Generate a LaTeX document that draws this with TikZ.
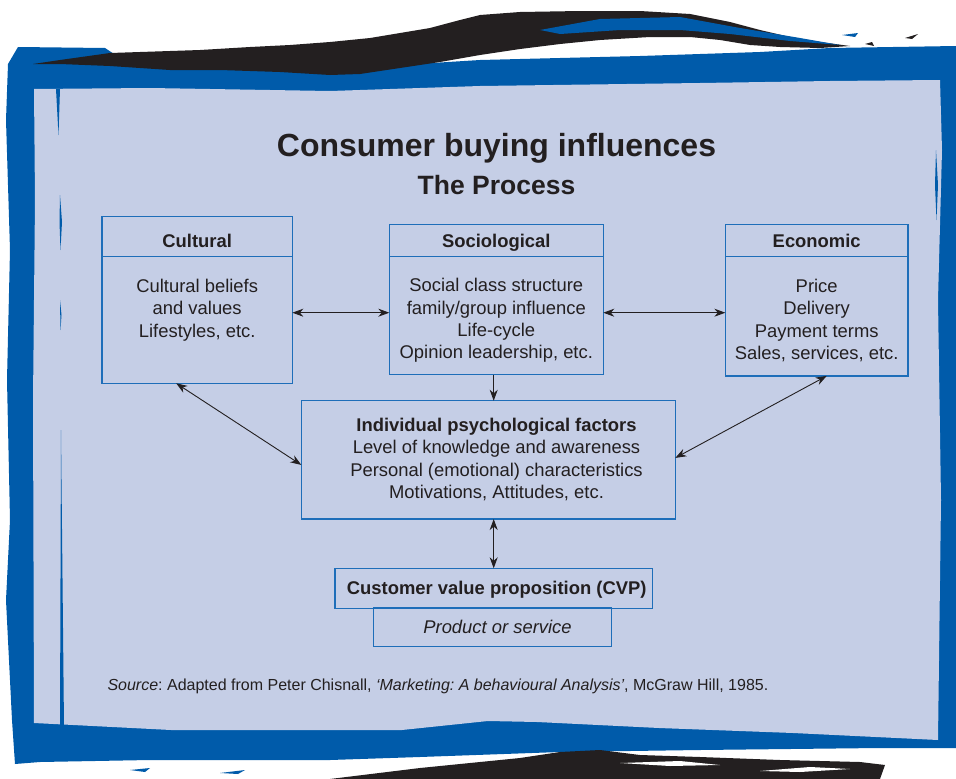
\documentclass[tikz,border=0pt]{standalone}
\usepackage{fontspec}
\setmainfont{Liberation Sans}
\usepackage{tikz}
\usetikzlibrary{arrows.meta}
\definecolor{frameblue}{RGB}{0,91,170}
\definecolor{panel}{RGB}{197,206,230}
\definecolor{boxblue}{RGB}{30,110,185}
\definecolor{ink}{RGB}{35,31,32}
\frenchspacing
\tikzset{
  catbox/.style={rectangle, draw=boxblue, line width=1.4pt, inner sep=0pt, outer sep=0pt},
  bodytext/.style={font=\fontsize{18.4}{22.4}\selectfont, text=ink, align=center},
  headtext/.style={font=\fontsize{18.4}{22.4}\selectfont\bfseries, text=ink, text height=13.2pt, text depth=3.9pt},
}

\begin{document}
\begin{tikzpicture}[x=1pt, y=-1pt]
\useasboundingbox (0,0) rectangle (956,779);
\fill[white] (0,0) rectangle (956,779);
% painted frame
\fill[frameblue] (18,47) -- (105,48) -- (120,58) -- (250,62) -- (400,65) -- (480,60) -- (640,56)
  -- (760,52) -- (830,48) -- (956,46) -- (956,748) -- (880,748) -- (700,750) -- (560,752)
  -- (420,757) -- (330,760) -- (150,760) -- (40,762) -- (15,764) -- (12,720) -- (6,600)
  -- (10,520) -- (7,380) -- (10,250) -- (6,120) -- (8,64) -- cycle;
\fill[panel] (34,89) -- (150,88) -- (330,91) -- (480,86) -- (700,83) -- (830,81) -- (940,80)
  -- (942,150) -- (938,300) -- (941,500) -- (938,740) -- (793,733) -- (659,728) -- (537,722)
  -- (488,721) -- (402,730) -- (171,730) -- (34,723) -- (33,400) -- (35,200) -- cycle;
\fill[frameblue] (56,89) -- (60,89) -- (58.5,135) -- cycle;
\fill[frameblue] (60,195) -- (62,222) -- (60.5,250) -- (59.5,222) -- cycle;
\fill[frameblue] (60,300) -- (61.5,315) -- (60.5,330) -- cycle;
\fill[frameblue] (61,430) -- (64,727) -- (60,727) -- cycle;
\fill[frameblue] (936,150) -- (938,185) -- (936.5,220) -- (935,185) -- cycle;
\fill[ink] (33,64) -- (60,60) -- (110,53) -- (200,50) -- (250,47) -- (290,45) -- (330,42)
  -- (370,38) -- (400,33) -- (430,28) -- (460,20) -- (480,15) -- (520,12) -- (580,11)
  -- (640,11) -- (690,14) -- (730,22) -- (760,30) -- (790,37) -- (820,42) -- (850,46)
  -- (820,48) -- (780,47) -- (750,45) -- (720,40) -- (690,37) -- (650,37) -- (600,40)
  -- (560,44) -- (520,49) -- (480,55) -- (440,62) -- (400,68) -- (360,74) -- (330,75)
  -- (280,72) -- (220,70) -- (170,70) -- (110,66) -- (60,64) -- cycle;
\fill[frameblue] (540,30) -- (600,19) -- (680,17) -- (740,28) -- (800,38) -- (840,45)
  -- (790,41) -- (730,34) -- (680,30) -- (620,30) -- (560,34) -- cycle;
\fill[ink] (865,44) -- (872,42) -- (874,46) -- cycle;
\fill[ink] (905,38) -- (918,34) -- (912,39) -- cycle;
\fill[frameblue] (842,35) -- (858,33) -- (855,37) -- cycle;
\fill[ink] (330,779) -- (420,768) -- (520,758) -- (560,752) -- (600,750) -- (640,755)
  -- (700,757) -- (780,760) -- (860,762) -- (885,765) -- (880,779) -- cycle;
\fill[white] (620,763) -- (680,761) -- (720,765) -- (670,766) -- cycle;
\fill[white] (760,771) -- (810,767) -- (850,769) -- (800,772) -- cycle;
\fill[frameblue] (130,770) -- (150,768) -- (145,772) -- cycle;
\fill[frameblue] (220,773) -- (245,770) -- (238,774) -- cycle;

\node[font=\fontsize{32}{38}\selectfont\bfseries, text=ink, anchor=base] (title) at (496.5,156.7) {Consumer buying influences};
\node[font=\fontsize{26.5}{32}\selectfont\bfseries, text=ink, anchor=base] (subtitle) at (496.5,194) {The Process};

\begin{scope}[every node/.style={catbox}]
  \node[minimum width=190.3, minimum height=40] (cultHead) at (197.2,236.7) {};
  \node[minimum width=190.3, minimum height=126.6] (cultBody) at (197.2,320) {};
  \node[minimum width=214, minimum height=32] (socHead) at (496.3,240.7) {};
  \node[minimum width=214, minimum height=118] (socBody) at (496.3,315.7) {};
  \node[minimum width=182.7, minimum height=32] (econHead) at (816.7,240.7) {};
  \node[minimum width=182.7, minimum height=119.3] (econBody) at (816.7,316.3) {};
  \node[minimum width=374, minimum height=118.3] (indiv) at (488.3,459.9) {};
  \node[minimum width=238.4, minimum height=38.7] (prod) at (492.5,627.3) {};
  \node[minimum width=317.3, minimum height=40] (cvp) at (493.7,588.3) {};
\end{scope}

\begin{scope}[every node/.style={headtext}]
  \node (cultTitle) at (197.2,243) {Cultural};
  \node (socTitle) at (496.3,243) {Sociological};
  \node (econTitle) at (816.7,243) {Economic};
  \node (cvpTitle) at (496.7,590.3) {Customer value proposition (CVP)};
\end{scope}

\begin{scope}[every node/.style={bodytext}]
  \node (cultText) at (197.2,310) {Cultural beliefs\\and values\\Lifestyles, etc.};
  \node (socText) at (496.3,320.5) {Social class structure\\family/group influence\\Life-cycle\\Opinion leadership, etc.};
  \node (econText) at (816.7,320.5) {Price\\Delivery\\Payment terms\\Sales, services, etc.};
  \node (indivText) at (496.5,459.5) {\textbf{Individual psychological factors}\\Level of knowledge and awareness\\Personal (emotional) characteristics\\Motivations, Attitudes, etc.};
  \node (prodText) at (497.5,627.3) {\textit{Product or service}};
\end{scope}

\node[font=\fontsize{16}{19}\selectfont, text=ink, anchor=base west] (source) at (104,690)
  {\textit{Source}: Adapted from Peter Chisnall, \textit{`Marketing: A behavioural Analysis'}, McGraw Hill, 1985.};

\coordinate (rowmid) at (0,312.7);
\begin{scope}[>={Stealth[length=11pt, width=8pt, inset=3.5pt]}, every edge/.style={draw=ink, line width=0.9pt}]
\path[<->] (cultBody.east |- rowmid) edge (socBody.west |- rowmid);
\path[<->] (socBody.east |- rowmid) edge (econBody.west |- rowmid);
\path[->] (socBody.south -| cvp) edge (indiv.north -| cvp);
\path[<->] ([xshift=-21]cultBody.south) edge ([yshift=-5]indiv.west);
\path[<->] ([xshift=10]econBody.south) edge ([yshift=2]indiv.east);
\path[<->] (indiv.south -| cvp) edge (cvp.north);
\end{scope}
\end{tikzpicture}
\end{document}
